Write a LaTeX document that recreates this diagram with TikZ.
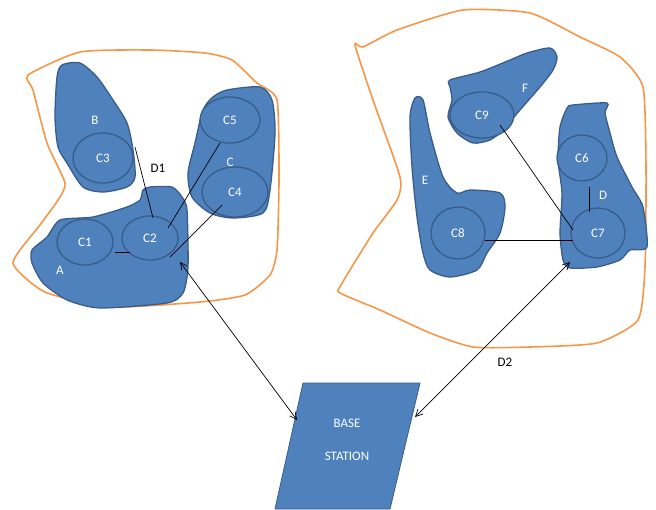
\documentclass[tikz,border=0pt]{standalone}
\usepackage{fontspec}
\setmainfont{Carlito}
\usetikzlibrary{shapes.geometric,calc,arrows.meta}
\definecolor{blobfill}{RGB}{79,129,189}
\definecolor{blobline}{RGB}{56,93,138}
\definecolor{zone}{RGB}{247,150,70}
\begin{document}
\begin{tikzpicture}[x=1pt,y=-1pt,
  blob/.style={fill=blobfill, draw=blobline, line width=1.3pt},
  cell/.style={ellipse, fill=blobfill, draw=blobline, line width=1.3pt, inner sep=0pt, text=white, font=\fontsize{13}{15}\selectfont},
  lbl/.style={text=white, font=\fontsize{13}{15}\selectfont},
  dlbl/.style={text=black, font=\fontsize{13}{15}\selectfont},
  zoneline/.style={draw=zone, line width=1.6pt},
  link/.style={draw=black, line width=0.7pt},
  biarrow/.style={link, {Straight Barb[length=7pt,width=7pt]}-{Straight Barb[length=7pt,width=7pt]}}
]
\useasboundingbox (0,0) rectangle (656,509);

% zones
\draw[zoneline] plot[smooth cycle, tension=0.35] coordinates {(28,75) (80,52) (150,50) (205,53) (232,60) (257,83) (277,100) (279,180) (277,250) (270,275) (245,295) (200,302) (110,307) (45,292) (13,263) (40,225) (58,200) (65,183) (47,143) (33,90)};
\draw[zoneline] plot[smooth cycle, tension=0.35] coordinates {(355,45) (363,47) (397,30) (463,10) (530,13) (580,37) (620,57) (643,87) (646,167) (645,267) (638,320) (597,343) (530,347) (473,347) (430,333) (380,310) (340,293) (341,285) (373,233) (397,200) (400,177) (373,100)};

% left blobs
\draw[blob] plot[smooth cycle, tension=0.45] coordinates {(62,65) (80,63) (97,77) (113,100) (127,123) (133,150) (135,177) (127,187) (103,192) (83,187) (67,163) (58,147) (55,117) (57,77)};
\draw[blob] plot[smooth cycle, tension=0.45] coordinates {(227,90) (260,87) (272,100) (275,133) (270,190) (263,213) (233,218) (210,213) (192,197) (188,173) (195,143) (203,110) (213,97)};
\draw[blob] plot[smooth cycle, tension=0.4] coordinates {(150,187) (172,187) (182,197) (187,210) (188,267) (183,293) (167,303) (100,308) (67,300) (43,283) (32,263) (32,250) (47,237) (60,220) (93,217) (127,207) (140,200) (143,190)};

% right blobs
\draw[blob] plot[smooth cycle, tension=0.45] coordinates {(450,80) (480,72) (510,60) (527,53) (550,48) (557,57) (553,70) (540,87) (520,110) (503,130) (490,140) (473,143) (457,133) (448,117) (452,100) (450,87)};
\draw[blob] plot[smooth cycle, tension=0.45] coordinates {(415,98) (423,100) (430,133) (443,177) (457,193) (470,190) (500,193) (505,207) (500,233) (487,253) (477,270) (450,277) (430,270) (423,253) (417,217) (412,167) (410,117)};
\draw[blob] plot[smooth cycle, tension=0.4] coordinates {(567,108) (573,105) (607,103) (605,113) (610,133) (617,157) (632,187) (643,207) (647,247) (630,250) (620,260) (597,267) (570,268) (563,260) (560,233) (562,193) (558,160) (560,127)};

% cells
\node[cell, minimum width=60pt, minimum height=50pt] (C3) at (103,158) {C3};
\node[cell, minimum width=60pt, minimum height=46pt] (C5) at (230,120) {C5};
\node[cell, minimum width=66pt, minimum height=50pt] (C4) at (235,192) {C4};
\node[cell, minimum width=56pt, minimum height=46pt] (C1) at (85,242) {C1};
\node[cell, minimum width=56pt, minimum height=44pt] (C2) at (150,238) {C2};
\node[cell, minimum width=64pt, minimum height=46pt] (C9) at (482,115) {C9};
\node[cell, minimum width=54pt, minimum height=52pt] (C8) at (458,233) {C8};
\node[cell, minimum width=50pt, minimum height=46pt] (C6) at (582,158) {C6};
\node[cell, minimum width=54pt, minimum height=50pt] (C7) at (598,233) {C7};

% blob labels
\node[lbl] (lA) at (60,270) {A};
\node[lbl] (lB) at (95,120) {B};
\node[lbl] (lC) at (230,162) {C};
\node[lbl] (lD) at (603,195) {D};
\node[lbl] (lE) at (425,180) {E};
\node[lbl] (lF) at (525,88) {F};
\node[dlbl] (lD1) at (158,168) {D1};
\node[dlbl] (lD2) at (505,362) {D2};

% base station
\draw[blob, line width=0.8pt] (303,383) -- (420,383) -- (390,509) -- (275,509) -- cycle;
\node[lbl] (bs1) at (347,423) {BASE};
\node[lbl] (bs2) at (347,456) {STATION};
\coordinate (bsL) at (297,420);
\coordinate (bsR) at (415,417);

% links
\draw[link] ($(C1.center)+(30,10)$) -- ($(C2.center)+(-20,14)$);
\draw[link] ($(C3.center)+(32,-11)$) -- ($(C2.center)+(3,-20)$);
\draw[link] ($(C5.center)+(-10,23)$) -- ($(C2.center)+(18,-10)$);
\draw[link] ($(C4.center)+(-13,13)$) -- ($(C2.center)+(20,19)$);
\draw[link] ($(C6.center)+(7,29)$) -- ($(C7.center)+(-9,-21)$);
\draw[link] ($(C8.center)+(27,7)$) -- ($(C7.center)+(-25,7)$);
\draw[link] ($(C9.center)+(18,10)$) -- ($(C7.center)+(-25,-3)$);
\draw[biarrow] ($(C2.center)+(30,24)$) -- (bsL);
\draw[biarrow] ($(C7.center)+(-28,29)$) -- (bsR);
\end{tikzpicture}
\end{document}
